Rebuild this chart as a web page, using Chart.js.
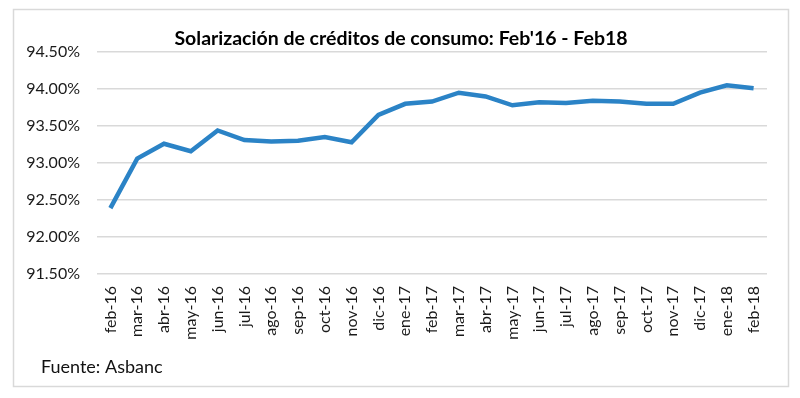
<!DOCTYPE html>
<html>
<head>
<meta charset="utf-8">
<script src="https://cdn.jsdelivr.net/npm/chart.js@4"></script>
<style>
  html, body { margin: 0; padding: 0; background: #fff; }
  #wrap { width: 800px; height: 398px; position: relative; }
</style>
</head>
<body>
<div id="wrap"><canvas id="myChart" width="800" height="398"></canvas></div>
<script>
const months = ['feb-16','mar-16','abr-16','may-16','jun-16','jul-16','ago-16','sep-16','oct-16','nov-16','dic-16',
    'ene-17','feb-17','mar-17','abr-17','may-17','jun-17','jul-17','ago-17','sep-17','oct-17','nov-17','dic-17',
    'ene-18','feb-18'];
const solarizacion = [92.39, 93.06, 93.26, 93.16, 93.44, 93.31, 93.29, 93.30, 93.35, 93.28, 93.65,
    93.80, 93.83, 93.95, 93.90, 93.78, 93.82, 93.81, 93.84, 93.83, 93.80, 93.80, 93.95,
    94.05, 94.01];
const yTicks = [91.5, 92.0, 92.5, 93.0, 93.5, 94.0, 94.5];

const chartTitle = "Solarización de créditos de consumo: Feb'16 - Feb18";
const source = 'Fuente: Asbanc';

// border, title and source note drawn on the canvas
const frame = {
    id: 'frame',
    beforeDraw(chart) {
        const c = chart.ctx;
        c.save();
        c.strokeStyle = '#d9d9d9';
        c.lineWidth = 1.5;
        c.strokeRect(13.5, 9.5, 775, 377);
        c.restore();
    },
    afterDraw(chart) {
        const c = chart.ctx;
        c.save();
        c.fillStyle = '#000';
        c.font = 'bold 19.5px Lato';
        c.textAlign = 'center';
        c.textBaseline = 'alphabetic';
        c.fillText(chartTitle, 401, 45);
        c.font = '18px Lato';
        c.textAlign = 'left';
        c.fillStyle = '#111';
        c.fillText(source, 41, 373);
        c.restore();
    }
};

const ctx = document.getElementById('myChart');
const myChart = new Chart(ctx, {
    type: 'line',
    data: {
        labels: months,
        datasets: [{
            data: solarizacion,
            borderColor: '#2B83C6',
            borderWidth: 4.5,
            pointRadius: 0,
            tension: 0,
            fill: false
        }]
    },
    options: {
        responsive: false,
        animation: false,
        layout: { padding: { left: 27, top: 52, right: 33, bottom: 54 } },
        plugins: { legend: { display: false }, title: { display: false }, tooltip: { enabled: false } },
        scales: {
            x: {
                offset: true,
                grid: { display: false, drawTicks: false },
                border: { display: false },
                ticks: { minRotation: 90, maxRotation: 90, padding: 12, color: '#1a1a1a', font: { family: 'Lato', size: 16 } },
                afterFit(scale) { scale.height = 70; }
            },
            y: {
                min: 91.5,
                max: 94.5,
                afterBuildTicks(scale) { scale.ticks = yTicks.map(v => ({ value: v })); },
                grid: { color: '#d9d9d9', lineWidth: 1.5, drawTicks: false },
                border: { display: false },
                ticks: {
                    padding: 17,
                    color: '#1a1a1a',
                    font: { family: 'Lato', size: 16 },
                    callback: v => v.toFixed(2) + '%'
                },
                afterFit(scale) { scale.width = 70; }
            }
        }
    },
    plugins: [frame]
});
</script>
</body>
</html>
